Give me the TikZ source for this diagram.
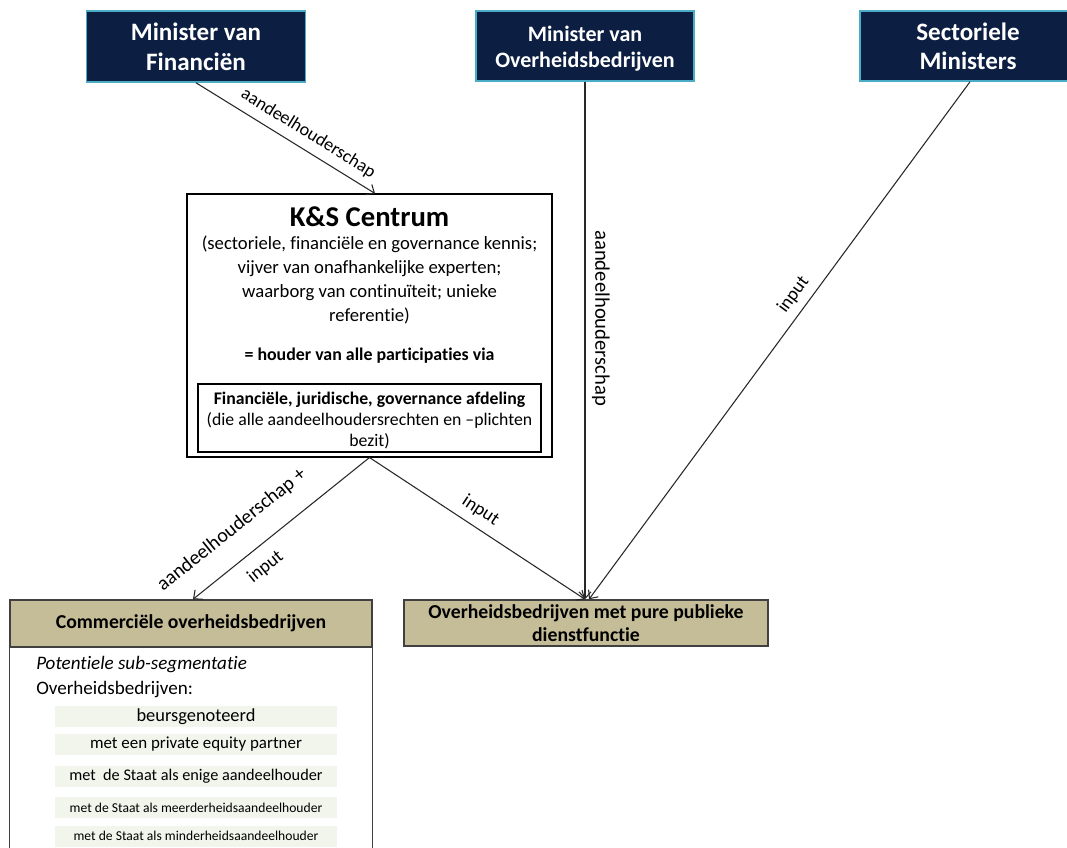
\documentclass[tikz,border=0pt]{standalone}
\usepackage{fontspec}
\setmainfont{Carlito}[Ligatures={NoCommon}]
\usetikzlibrary{arrows.meta,calc}
\definecolor{navy}{RGB}{12,30,66}
\definecolor{navyedge}{RGB}{75,172,198}
\definecolor{tanfill}{RGB}{196,189,151}
\definecolor{tanedge}{RGB}{64,64,64}
\definecolor{segfill}{RGB}{242,245,236}
\definecolor{linec}{RGB}{40,40,40}
\newdimen\upx \upx=0.75pt
\newcommand\myfs[2]{\fontsize{#1}{#2}\selectfont}
\begin{document}
\begin{tikzpicture}[x=0.75pt,y=-0.75pt,
  minbox/.style={draw=navyedge, line width=1.2pt, fill=navy, text=white, align=center, inner sep=0pt},
  tanbox/.style={draw=tanedge, line width=1.1pt, fill=tanfill, align=center, inner sep=0pt, font=\bfseries\myfs{14.8}{17.25}},
  segbox/.style={fill=segfill, minimum width=282\upx, minimum height=21\upx, inner sep=0pt},
  plainbox/.style={draw=black, line width=0.8pt, inner sep=0pt},
  conn/.style={draw=linec, line width=0.8pt, -{Straight Barb[length=5pt,width=9pt]}},
  lbl/.style={sloped, inner xsep=0pt, font=\myfs{14}{16}},
]
\useasboundingbox (0,0) rectangle (1067,848);
\fill[white] (0,0) rectangle (1067,848);

% top boxes
\node[minbox, minimum width=219\upx, minimum height=71\upx, font=\bfseries\myfs{18.8}{22.5}] (mvf) at (196,46.5) {Minister van\\Financiën};
\node[minbox, minimum width=218\upx, minimum height=70\upx] (mvo) at (585,46) {};
\node[inner sep=0pt, text=white, align=center, font=\bfseries\myfs{16.5}{20}] (mvotext) at (585,48.5) {Minister van\\Overheidsbedrijven};
\node[minbox, minimum width=216\upx, minimum height=70\upx, font=\bfseries\myfs{18.8}{22}] (sm) at (968,46) {Sectoriele\\Ministers};

% K&S centrum
\node[plainbox, minimum width=365\upx, minimum height=263\upx] (ks) at (369.5,325.5) {};
\node[inner sep=0pt, font=\bfseries\myfs{21.5}{24}] (kstitle) at (369.5,217) {K\&S Centrum};
\node[inner sep=0pt, align=center, font=\myfs{14}{18.2}] (kstext) at (369.5,280) {(sectoriele, financiële en governance kennis;\\vijver van onafhankelijke experten;\\waarborg van continuïteit; unieke\\referentie)};
\node[inner sep=0pt, font=\bfseries\myfs{13.4}{16}] (houder) at (369.5,356) {= houder van alle participaties via};
\node[plainbox, minimum width=343\upx, minimum height=68\upx] (afd) at (369.5,418) {};
\node[inner sep=0pt, align=center, font=\myfs{13.3}{15.75}] (afdtext) at (369.5,421) {\textbf{Financiële, juridische, governance afdeling}\\(die alle aandeelhoudersrechten en –plichten\\bezit)};

% commerciele
\node[tanbox, minimum width=362\upx, minimum height=47\upx] (com) at (191,623.5) {Commerciële overheidsbedrijven};
\draw[tanedge, line width=1.1pt, fill=white] (com.south west) rectangle ($(com.south east)+(0,240)$);
\node[tanbox, minimum width=362\upx, minimum height=47\upx] at (com) {Commerciële overheidsbedrijven};
\node[anchor=west, inner sep=0pt, font=\itshape\myfs{14.3}{17}] (pot) at (36,665) {Potentiele sub-segmentatie};
\node[anchor=west, inner sep=0pt, font=\myfs{14.3}{17}] (ovh) at (36,690) {Overheidsbedrijven:};
\node[segbox, font=\myfs{13.8}{16}] (s1) at (196,716.5) {beursgenoteerd};
\node[segbox, font=\myfs{12.7}{15}] (s2) at (196,744.5) {met een private equity partner};
\node[segbox, font=\myfs{12.2}{14}] (s3) at (196,776) {met\ \ de Staat als enige aandeelhouder};
\node[segbox, font=\myfs{10.2}{12}] (s4) at (196,807.5) {met de Staat als meerderheidsaandeelhouder};
\node[segbox, font=\myfs{10.2}{12}] (s5) at (196,836) {met de Staat als minderheidsaandeelhouder};

% pure publieke
\node[tanbox, minimum width=364\upx, minimum height=46\upx] (pure) at (586,623) {Overheidsbedrijven met pure publieke\\dienstfunctie};

% connectors
\draw[conn] (mvf.south) -- node[lbl, pos=0.58, anchor=south, inner ysep=5.8pt, font=\myfs{13.6}{16}] (l1) {aandeelhouderschap} ($(ks.north)+(5.5,0)$);
\draw[conn] (mvo.south) -- node[pos=0.457, rotate=-90, anchor=south, inner xsep=0pt, inner ysep=4.8pt, font=\myfs{15.5}{18}] (l2) {aandeelhouderschap} (mvo.south |- pure.north);
\draw[conn] ($(sm.south)+(2,0)$) -- node[lbl, pos=0.43, anchor=south, inner ysep=5.5pt] (l3) {input} ($(pure.north)+(3,0)$);
\draw[conn] (ks.south) -- node[lbl, pos=0.675, anchor=south, inner ysep=15.5pt, font=\myfs{15}{17}] (l4) {aandeelhouderschap +} node[lbl, pos=0.66, anchor=north, inner ysep=8.8pt] (l5) {input} ($(com.north)+(2,0)$);
\draw[conn] (ks.south) -- node[lbl, pos=0.473, anchor=south, inner ysep=6.1pt] (l6) {input} (mvo.south |- pure.north);
\end{tikzpicture}
\end{document}
